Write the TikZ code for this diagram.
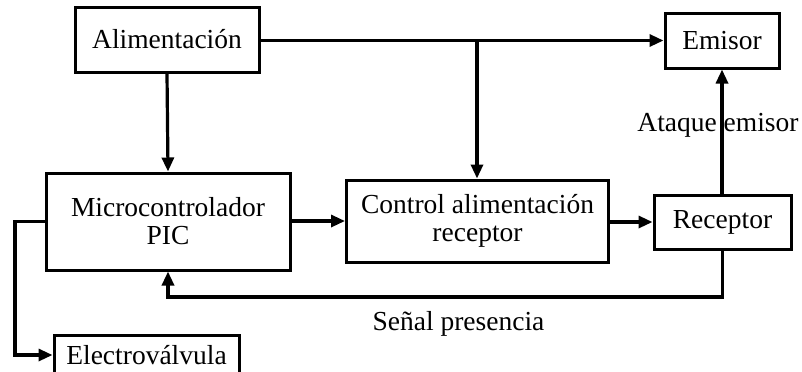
\documentclass[tikz,border=0pt]{standalone}
\usepackage{fontspec}
\setmainfont{Liberation Serif}
\usetikzlibrary{arrows.meta}
\begin{document}
\begin{tikzpicture}[x=0.5pt,y=-0.5pt,
  blk/.style={draw,line width=1.5pt,inner sep=0pt,align=center,
    font=\fontsize{13.75}{14}\selectfont},
  lbl/.style={inner sep=0pt,font=\fontsize{13.75}{14}\selectfont},
  conn/.style={line width=1.6pt,-{Triangle[length=7pt,width=6pt]}},
  wire/.style={line width=1.6pt}]
\useasboundingbox[fill=white] (0,0) rectangle (802,371);
\node[blk,minimum width=92pt,minimum height=32.5pt] (ali) at (167,39.5) {Alimentación};
\node[blk,minimum width=57pt,minimum height=27.5pt] (emi) at (722,40.5) {Emisor};
\node[blk,minimum width=122pt,minimum height=48.5pt] (mic) at (168,221.5) {Microcontrolador\\PIC};
\node[blk,minimum width=131pt,minimum height=41pt] (ctl) at (477.5,221) {Control alimentación\\receptor};
\node[blk,minimum width=68.5pt,minimum height=27pt] (rec) at (722.5,222) {Receptor};
\node[blk,minimum width=92.5pt,minimum height=20pt] (ele) at (146.5,355) {Electroválvula};
\coordinate (br) at (477,40.5);
\coordinate (fb) at (722.5,297);
\coordinate (fbl) at (168,297);
\coordinate (ev) at (15,221.5);
\coordinate (evb) at (15,355);
\draw[conn] (ali.east |- emi.west) -- (emi.west);
\draw[conn] (br) -- (br |- ctl.north);
\draw[conn] (ali.south) -- (mic.north);
\draw[conn] (mic.east |- ctl.west) -- (ctl.west);
\draw[conn] (ctl.east |- rec.west) -- (rec.west);
\draw[conn] (rec.north -| emi.south) -- (emi.south);
\node[lbl,anchor=base] (ata) at (718,131) {Ataque emisor};
\draw[wire] (ata.north -| emi.south) -- (ata.south -| emi.south);
\draw[conn] (rec.south) -- (fb) -- (fbl) -- (mic.south);
\node[lbl,anchor=base] (sen) at (458.5,330) {Señal presencia};
\draw[conn] (mic.west) -- (ev) -- (evb) -- (ele.west);
\end{tikzpicture}
\end{document}
